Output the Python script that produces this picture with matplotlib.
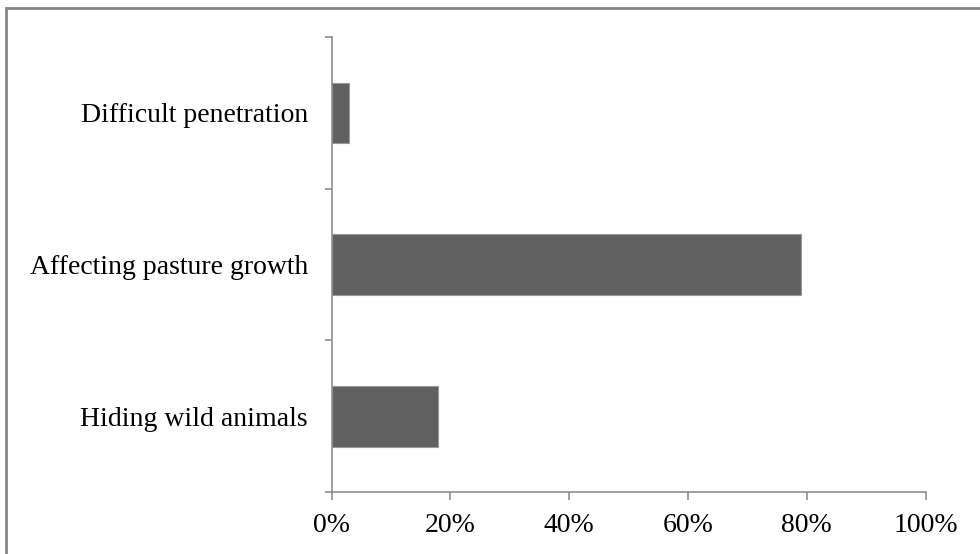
import matplotlib
matplotlib.use('Agg')
import matplotlib.pyplot as plt
from matplotlib.patches import Rectangle
from matplotlib.ticker import PercentFormatter

categorias = ['Hiding wild animals', 'Affecting pasture growth', 'Difficult penetration']
valores = [18, 79, 3]
ticks_x = [0, 20, 40, 60, 80, 100]

plt.rcParams['font.family'] = ['Liberation Serif', 'DejaVu Serif']
cinza = '#868686'

fig = plt.figure(figsize=(9.8, 5.54), dpi=100)
ax = fig.add_axes([0.3383, 0.1119, 0.6061, 0.8213])

ax.barh(range(len(categorias)), valores, height=0.4, color='#606060',
        edgecolor='#9a9a9a', linewidth=0.8)

ax.set_xlim(0, 100)
ax.set_ylim(-0.5, len(categorias) - 0.5)
ax.set_xticks(ticks_x)
ax.xaxis.set_major_formatter(PercentFormatter(decimals=0))

# rótulos das categorias no centro, ticks nas divisas
ax.set_yticks(range(len(categorias)))
ax.set_yticklabels(categorias)
ax.set_yticks([-0.5, 0.5, 1.5, 2.5], minor=True)
ax.tick_params(axis='y', which='major', length=0, pad=17, labelsize=20)
ax.tick_params(axis='y', which='minor', length=5, width=1.1, color=cinza)
ax.tick_params(axis='x', length=5.8, width=1.1, color=cinza, pad=9, labelsize=20)

for lado in ['top', 'right']:
    ax.spines[lado].set_visible(False)
for lado in ['left', 'bottom']:
    ax.spines[lado].set_color(cinza)
    ax.spines[lado].set_linewidth(1.1)

# moldura em volta do gráfico
fig.patches.append(Rectangle((6 / 980, -0.05), 1.1, 1 - 8 / 554 + 0.05,
                             transform=fig.transFigure, fill=False,
                             edgecolor=cinza, linewidth=2))

fig.savefig('out.png', dpi=100)
